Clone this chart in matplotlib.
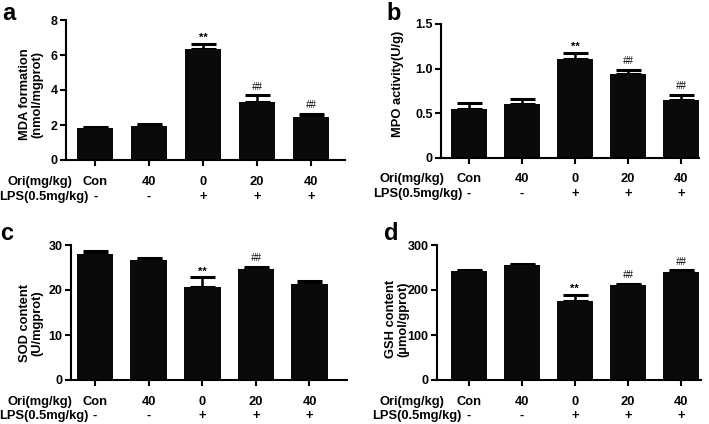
import matplotlib
matplotlib.use("Agg")
import matplotlib.pyplot as plt

plt.rcParams['font.family'] = ['Liberation Sans', 'DejaVu Sans']
plt.rcParams['font.weight'] = 'bold'

# groups (same for every panel)
ori_labels = ['Con', '40', '0', '20', '40']
lps_labels = ['-', '-', '+', '+', '+']

# panel values (mean, upper error)
mda_mean = [1.82, 1.97, 6.35, 3.33, 2.47]
mda_err = [0.05, 0.06, 0.28, 0.38, 0.18]
mda_marks = ['', '', '**', '##', '##']

mpo_mean = [0.55, 0.61, 1.11, 0.94, 0.65]
mpo_err = [0.07, 0.05, 0.07, 0.05, 0.06]
mpo_marks = ['', '', '**', '##', '##']

sod_mean = [27.9, 26.6, 20.6, 24.7, 21.3]
sod_err = [0.7, 0.6, 2.2, 0.5, 0.8]
sod_marks = ['', '', '**', '##', '']

gsh_mean = [243, 255, 176, 211, 241]
gsh_err = [2.5, 2.0, 13, 2.5, 2.5]
gsh_marks = ['', '', '**', '##', '##']

W, H = 709, 424
fig = plt.figure(figsize=(W / 100, H / 100), dpi=100)

ori_y_frac = -0.16
lps_y_frac = -0.265
row_fs = 9.3


def make_axes(left, right, top, bottom):
    return fig.add_axes([left / W, 1 - bottom / H, (right - left) / W, (bottom - top) / H])


def draw_panel(ax, mean, err, marks, yticks, yticklabels, ylabel, xlim, label_xy,
               ori_x, lps_x):
    x = list(range(len(mean)))
    ax.errorbar(x, mean, yerr=[[0] * len(err), err], fmt='none', ecolor='black',
                elinewidth=1.8, capsize=9, capthick=2.2, zorder=1)
    ax.bar(x, mean, width=0.68, color='#0a0a0a', zorder=2)
    for xi, m, e, s in zip(x, mean, err, marks):
        if s == '**':
            ax.annotate(s, (xi, m + e), xytext=(0, 0.5), textcoords='offset points',
                        ha='center', va='bottom', fontsize=8, fontweight='bold')
        elif s:
            ax.annotate(s, (xi, m + e), xytext=(0, 2.5), textcoords='offset points',
                        ha='center', va='bottom', fontsize=7, fontweight='normal',
                        style='italic')
    ax.set_xlim(*xlim)
    ax.set_ylim(0, yticks[-1])
    ax.set_yticks(yticks)
    ax.set_yticklabels(yticklabels)
    ax.set_xticks(x)
    ax.set_xticklabels([])
    for side in ['top', 'right']:
        ax.spines[side].set_visible(False)
    for side in ['left', 'bottom']:
        ax.spines[side].set_linewidth(1.5)
    ax.tick_params(axis='both', direction='out', length=4, width=1.5, labelsize=9, pad=2)
    ax.set_ylabel(ylabel, fontsize=9.3, fontweight='bold', linespacing=1.0)
    ax.yaxis.set_label_coords(*label_xy)

    trans = ax.get_xaxis_transform()
    ax.text(ori_x, ori_y_frac, 'Ori(mg/kg)', transform=trans, ha='right', va='center',
            fontsize=row_fs, fontweight='bold')
    ax.text(lps_x, lps_y_frac, 'LPS(0.5mg/kg)', transform=trans, ha='right', va='center',
            fontsize=row_fs, fontweight='bold')
    for xi, o, l in zip(x, ori_labels, lps_labels):
        ax.text(xi, ori_y_frac, o, transform=trans, ha='center', va='center',
                fontsize=row_fs, fontweight='bold')
        ax.text(xi, lps_y_frac, l, transform=trans, ha='center', va='center',
                fontsize=row_fs, fontweight='bold')


ax_a = make_axes(66, 345, 20, 160)
draw_panel(ax_a, mda_mean, mda_err, mda_marks, [0, 2, 4, 6, 8], ['0', '2', '4', '6', '8'],
           'MDA formation\n(nmol/mgprot)', (-0.54, 4.63), (-0.082, 0.47), -0.43, -0.13)

ax_b = make_axes(441, 699, 24, 158)
draw_panel(ax_b, mpo_mean, mpo_err, mpo_marks, [0, 0.5, 1.0, 1.5], ['0', '0.5', '1.0', '1.5'],
           'MPO activity(U/g)', (-0.53, 4.34), (-0.143, 0.55), -0.47, -0.13)

ax_c = make_axes(71, 347, 245, 380)
draw_panel(ax_c, sod_mean, sod_err, sod_marks, [0, 10, 20, 30], ['0', '10', '20', '30'],
           'SOD content\n(U/mgprot)', (-0.45, 4.7), (-0.10, 0.42), -0.43, -0.13)

ax_d = make_axes(437, 701, 245, 380)
draw_panel(ax_d, gsh_mean, gsh_err, gsh_marks, [0, 100, 200, 300], ['0', '100', '200', '300'],
           'GSH content\n(\u03bcmol/gprot)', (-0.6, 4.38), (-0.106, 0.45), -0.47, -0.13)

# panel letters
for letter, px, py in [('a', 2, 2), ('b', 386, 2), ('c', 0, 222), ('d', 384, 222)]:
    fig.text(px / W, 1 - py / H, letter, fontsize=17, fontweight='bold', ha='left', va='top')

fig.savefig('out.png', dpi=100)
